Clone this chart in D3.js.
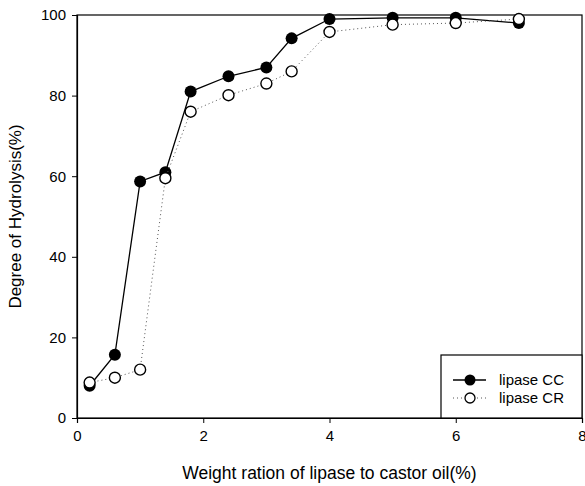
<!DOCTYPE html>
<html>
<head>
<meta charset="utf-8">
<script src="https://cdn.jsdelivr.net/npm/d3@7"></script>
<style>
  body { margin: 0; background: #fff; }
  svg { display: block; font-family: "Liberation Sans", Arial, sans-serif; }
</style>
</head>
<body>
<svg id="chart"></svg>
<script>
const width = 585, height = 486;

// data
const ratio = [0.2, 0.6, 1.0, 1.4, 1.8, 2.4, 3.0, 3.4, 4.0, 5.0, 6.0, 7.0];
const lipaseCC = [8, 15.7, 58.7, 61, 81, 84.8, 87, 94.2, 99, 99.3, 99.3, 98];
const lipaseCR = [8.8, 10, 12, 59.5, 76, 80.1, 83, 86, 95.8, 97.6, 98, 99];
const xTicks = [0, 2, 4, 6, 8];
const yTicks = [0, 20, 40, 60, 80, 100];
const seriesNames = ["lipase CC", "lipase CR"];

const margin = {top: 15, right: 3, bottom: 68, left: 77};

const svg = d3.select("#chart")
    .attr("width", width)
    .attr("height", height);

const x = d3.scaleLinear().domain([0, 8]).range([margin.left, width - margin.right]);
const y = d3.scaleLinear().domain([0, 100]).range([height - margin.bottom, margin.top]);

// frame
svg.append("rect")
    .attr("x", x(0)).attr("y", y(100))
    .attr("width", x(8) - x(0)).attr("height", y(0) - y(100))
    .attr("fill", "none").attr("stroke", "#000").attr("stroke-width", 1.2);

svg.append("g")
    .attr("transform", `translate(0,${y(0)})`)
    .call(d3.axisBottom(x).tickValues(xTicks).tickSize(5).tickPadding(7).tickFormat(d3.format("d")))
    .call(g => g.select(".domain").attr("stroke-width", 1.2))
    .call(g => g.selectAll("text").attr("font-size", 15).attr("font-family", "Liberation Sans, Arial").attr("fill", "#000"));

svg.append("g")
    .attr("transform", `translate(${x(0)},0)`)
    .call(d3.axisLeft(y).tickValues(yTicks).tickSize(5).tickPadding(6))
    .call(g => g.select(".domain").attr("stroke-width", 1.2))
    .call(g => g.selectAll("text").attr("font-size", 15).attr("font-family", "Liberation Sans, Arial").attr("fill", "#000"));

// axis titles
svg.append("text")
    .attr("x", (x(0) + x(8)) / 2)
    .attr("y", 479)
    .attr("text-anchor", "middle")
    .attr("font-size", 17.5)
    .text("Weight ration of lipase to castor oil(%)");

svg.append("text")
    .attr("transform", `translate(21,${(y(0) + y(100)) / 2}) rotate(-90)`)
    .attr("text-anchor", "middle")
    .attr("font-size", 17)
    .text("Degree of Hydrolysis(%)");

const line = d3.line().x(d => x(d[0])).y(d => y(d[1]));
const ccData = ratio.map((r, i) => [r, lipaseCC[i]]);
const crData = ratio.map((r, i) => [r, lipaseCR[i]]);

// lipase CC: solid line, filled circles
svg.append("path")
    .datum(ccData)
    .attr("d", line)
    .attr("fill", "none")
    .attr("stroke", "#000")
    .attr("stroke-width", 1.3);

svg.selectAll(".cc")
    .data(ccData)
    .join("circle")
    .attr("class", "cc")
    .attr("cx", d => x(d[0]))
    .attr("cy", d => y(d[1]))
    .attr("r", 6)
    .attr("fill", "#000");

// lipase CR: dotted line, open circles
svg.append("path")
    .datum(crData)
    .attr("d", line)
    .attr("fill", "none")
    .attr("stroke", "#555")
    .attr("stroke-width", 1)
    .attr("stroke-dasharray", "1,3");

svg.selectAll(".cr")
    .data(crData)
    .join("circle")
    .attr("class", "cr")
    .attr("cx", d => x(d[0]))
    .attr("cy", d => y(d[1]))
    .attr("r", 5.5)
    .attr("fill", "#fff")
    .attr("stroke", "#000")
    .attr("stroke-width", 1.4);

// legend
const legend = svg.append("g");
legend.append("rect")
    .attr("x", 441).attr("y", 355)
    .attr("width", x(8) - 441).attr("height", y(0) - 355)
    .attr("fill", "#fff").attr("stroke", "#000").attr("stroke-width", 1.2);

seriesNames.forEach((name, i) => {
    const ly = 380 + i * 18;
    const solid = i === 0;
    legend.append("line")
        .attr("x1", 453).attr("x2", 486)
        .attr("y1", ly).attr("y2", ly)
        .attr("stroke", solid ? "#000" : "#555")
        .attr("stroke-width", solid ? 1.3 : 1)
        .attr("stroke-dasharray", solid ? null : "1,3");
    legend.append("circle")
        .attr("cx", 470).attr("cy", ly)
        .attr("r", solid ? 5.5 : 5)
        .attr("fill", solid ? "#000" : "#fff")
        .attr("stroke", "#000")
        .attr("stroke-width", solid ? 0 : 1.3);
    legend.append("text")
        .attr("x", 499).attr("y", ly + 5)
        .attr("font-size", 15)
        .text(name);
});
</script>
</body>
</html>
